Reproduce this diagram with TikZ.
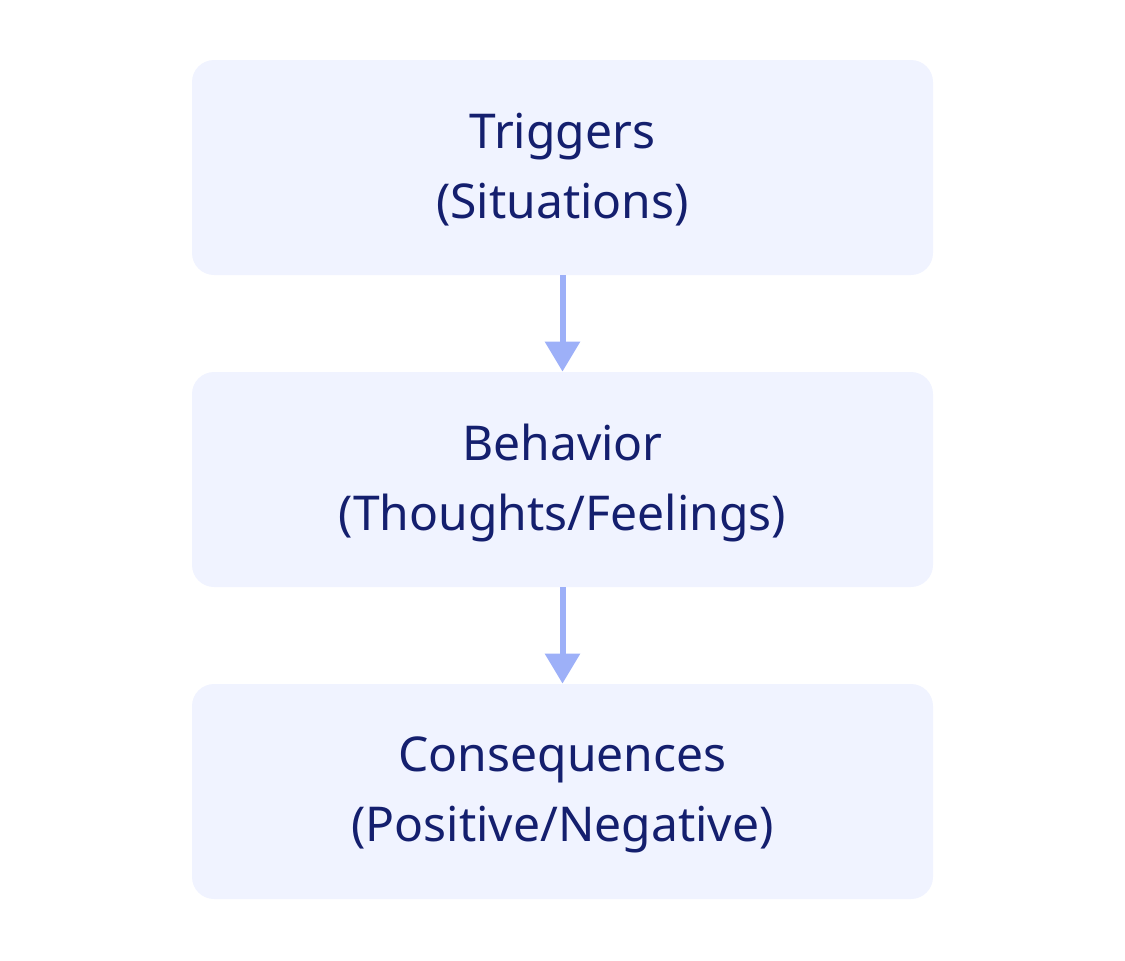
\documentclass[tikz,border=0pt]{standalone}
\usepackage{fontspec}
\setmainfont{Noto Sans}
\usetikzlibrary{arrows.meta}
\definecolor{boxfill}{HTML}{F0F3FF}
\definecolor{arrowc}{HTML}{9DB0F8}
\definecolor{textc}{HTML}{141F6E}
\begin{document}
\begin{tikzpicture}[x=0.5pt,y=-0.5pt,
  stage/.style={fill=boxfill, draw=none, rounded corners=11pt, minimum width=370.5pt, minimum height=107.5pt, align=center, text=textc, font=\fontsize{24pt}{35pt}\selectfont, inner sep=0pt, text depth=2pt},
  flow/.style={draw=arrowc, line width=3pt, -{Triangle[width=17pt,length=15pt]}, shorten >=0pt}]
\useasboundingbox (0,0) rectangle (1125,960);
\node[stage] (t) at (562.5,167.5) {Triggers\\(Situations)};
\node[stage] (b) at (562.5,479.5) {Behavior\\(Thoughts/Feelings)};
\node[stage] (c) at (562.5,791.5) {Consequences\\(Positive/Negative)};
\draw[flow] (t.south) -- (b.north);
\draw[flow] (b.south) -- (c.north);
\end{tikzpicture}
\end{document}
